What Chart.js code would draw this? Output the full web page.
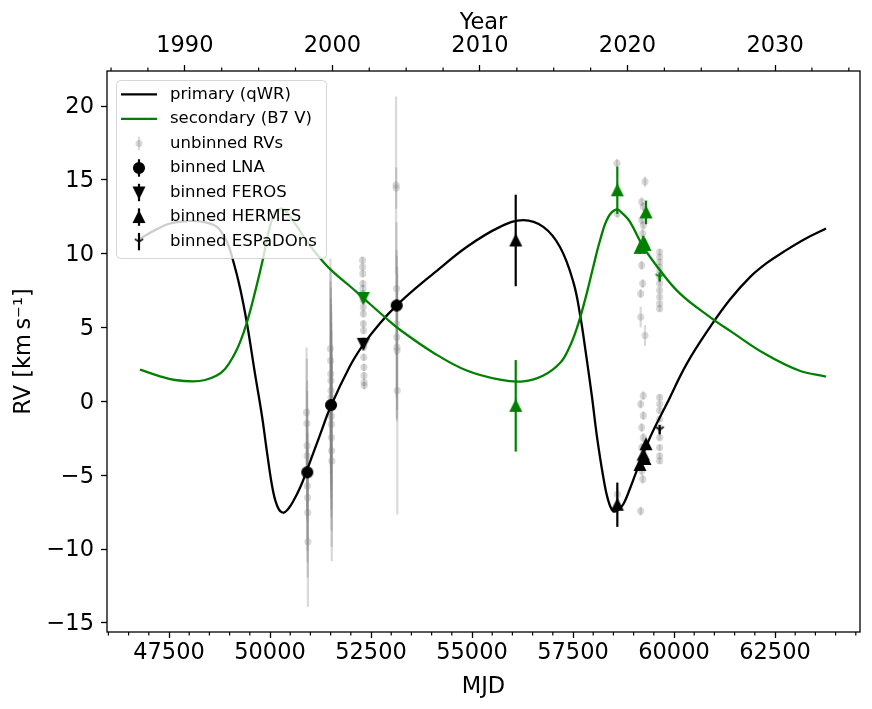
<!DOCTYPE html>
<html>
<head>
<meta charset="utf-8">
<title>RV orbit</title>
<script src="https://cdn.jsdelivr.net/npm/chart.js@4.4.1/dist/chart.umd.min.js"></script>
<style>
    html, body { margin: 0; padding: 0; background: #fff; }
    #wrap { width: 872px; height: 709px; }
</style>
</head>
<body>
<div id="wrap"><canvas id="rvChart" width="872" height="709"></canvas></div>
<script>
// --- values ---
const mjdTicks = [47500, 50000, 52500, 55000, 57500, 60000, 62500];
const yearTicks = [1990, 2000, 2010, 2020, 2030];
const rvTicks = [-15, -10, -5, 0, 5, 10, 15, 20];

// orbital solution (model curves)
const primaryMjd = [46782, 47153, 47525, 48020, 48342, 48688, 48936, 49084, 49257, 49431, 49629, 49802, 49926, 50074, 50198, 50329, 50445, 50577, 50743, 50923, 51213, 51510, 51980, 52309, 52723, 53136, 53600, 54042, 54869, 55693, 56270, 56765, 57178, 57507, 57673, 57822, 57970, 58094, 58242, 58366, 58497, 58614, 58745, 58911, 59076, 59406, 59819, 60314, 60891, 61386, 61881, 62300, 62705, 63242, 63762];
const primaryRv = [11.03, 11.6, 12.05, 12.23, 12.16, 11.82, 10.8, 9.56, 7.7, 5.26, 1.86, -1.0, -3.45, -6.05, -7.2, -7.54, -7.3, -6.75, -5.85, -4.6, -2.45, -0.3, 2.4, 3.85, 5.3, 6.5, 7.65, 8.65, 10.46, 11.82, 12.28, 11.82, 10.46, 8.1, 5.9, 3.2, 0.3, -2.4, -5.0, -6.65, -7.45, -7.35, -6.97, -5.9, -4.71, -2.45, -0.18, 2.54, 5.03, 6.9, 8.42, 9.38, 10.12, 11.0, 11.71];
const secondaryMjd = [46782, 47277, 47649, 48101, 48391, 48681, 48886, 49092, 49257, 49423, 49629, 49834, 49950, 50082, 50173, 50290, 50421, 50577, 50743, 50908, 51319, 51609, 51980, 52309, 52846, 53218, 54042, 54869, 55693, 56270, 56765, 57178, 57400, 57600, 57800, 58000, 58168, 58366, 58581, 58737, 58911, 59240, 59653, 60149, 60891, 61435, 62252, 63094, 63762];
const secondaryRv = [2.15, 1.7, 1.45, 1.36, 1.45, 1.75, 2.2, 3.05, 4.0, 5.3, 7.4, 9.75, 11.3, 12.6, 12.95, 13.05, 12.8, 12.2, 11.55, 10.85, 9.45, 8.65, 7.8, 7.0, 5.7, 4.85, 3.3, 2.09, 1.47, 1.36, 1.75, 2.6, 3.6, 5.0, 6.9, 9.1, 10.9, 12.45, 13.0, 12.7, 12.16, 10.46, 8.88, 7.3, 5.71, 4.69, 3.22, 2.09, 1.68];

// unbinned RVs
const unbinnedMjd = [
    50905, 50912, 50918, 50921, 50923, 50926, 50930, 50934, 50938,
    51495, 51500, 51504, 51507, 51510, 51512, 51515, 51518, 51520, 51523, 51526, 51530,
    52290, 52293, 52296, 52299, 52302, 52305, 52307, 52309, 52311, 52313, 52315, 52317, 52320, 52322, 52325, 52327, 52330, 52332,
    53120, 53125, 53130, 53134, 53138, 53142, 53146, 53150,
    58590, 58597, 58600, 58604,
    59282, 59200, 59240, 59200, 59240, 59225, 59183, 59200, 59225, 59175, 59175, 59282,
    59240, 59175, 59240, 59200, 59240, 59200, 59158, 59200, 59225, 59175,
    59645, 59645, 59645, 59645, 59645, 59645, 59645, 59645, 59645, 59645, 59645,
    59645, 59645, 59645, 59645, 59645, 59645, 59645, 59645, 59645
];
const unbinnedRv = [
    -0.75, -1.5, -3.0, -3.69, -4.89, -5.73, -6.52, -7.54, -9.51,
    3.56, 2.77, 1.86, 1.41, 0.73, 0.27, -0.29, -1.0, -1.54, -2.45, -3.35, -4.03,
    9.56, 9.1, 8.65, 7.98, 7.64, 7.3, 6.84, 6.39, 5.94, 5.26, 4.8, 4.12, 3.67, 2.99, 2.31, 1.75, 1.29, 1.07,
    14.65, 14.45, 7.64, 5.26, 4.35, 3.67, 3.44, 0.73,
    16.13, 12.73, -6.29, -7.2,
    14.88, 13.52, 13.18, 12.28, 11.94, 11.37, 10.35, 9.22, 7.98, 7.3, 5.71, 4.46,
    0.39, -0.18, -0.97, -1.77, -2.45, -3.13, -4.03, -4.71, -5.27, -7.43,
    10.12, 9.78, 9.44, 9.1, 8.76, 8.42, 7.98, 7.52, 7.07, 6.62, 6.28,
    0.27, -0.18, -0.63, -1.2, -1.77, -2.45, -3.13, -3.69, -4.03
];
const unbinnedErr = [
    4.4, 4.4, 4.4, 4.4, 4.4, 4.4, 4.4, 4.4, 4.4,
    6.1, 6.3, 6.3, 6.3, 6.3, 6.3, 6.3, 6.3, 6.3, 6.3, 6.5, 6.8,
    0.25, 0.25, 0.25, 0.25, 0.25, 0.25, 0.25, 0.25, 0.25, 0.25, 0.25, 0.25, 0.25, 0.25, 0.25, 0.25, 0.25, 0.25,
    6.0, 1.4, 4.5, 5.0, 5.5, 5.0, 4.0, 8.4,
    0.3, 0.3, 0.4, 0.4,
    0.35, 0.3, 0.3, 0.3, 0.3, 0.3, 0.3, 0.3, 0.3, 0.3, 0.7, 0.7,
    0.3, 0.3, 0.3, 0.3, 0.3, 0.3, 0.3, 0.3, 0.3, 0.3,
    0.2, 0.2, 0.2, 0.2, 0.2, 0.2, 0.2, 0.2, 0.2, 0.2, 0.2,
    0.2, 0.2, 0.2, 0.2, 0.2, 0.2, 0.2, 0.2, 0.2
];

// binned RVs per instrument (1 = primary, 2 = secondary)
const lnaMjd = [50923, 51510, 53136];
const lnaRv1 = [-4.8, -0.25, 6.5];
const lnaErr1 = [0.4, 0.4, 0.4];

const ferosMjd = [52310];
const ferosRv1 = [3.9];
const ferosRv2 = [7.0];
const ferosErr = [0.3];

const hermesMjd = [56082, 58597, 59158, 59240, 59282, 59307];
const hermesRv1 = [10.9, -7.0, -4.3, -3.6, -3.9, -2.9];
const hermesErr1 = [3.1, 1.5, 0.3, 0.3, 0.3, 0.3];
const hermesRv2 = [-0.3, 14.3, 10.4, 10.8, 10.6, 12.8];
const hermesErr2 = [3.1, 1.6, 0.4, 0.4, 0.4, 0.8];

const espadonsMjd = [59645];
const espadonsRv1 = [-1.9];
const espadonsRv2 = [8.45];
const espadonsErr = [0.3];

const legendLabels = ['primary (qWR)', 'secondary (B7 V)', 'unbinned RVs', 'binned LNA', 'binned FEROS', 'binned HERMES', 'binned ESPaDOns'];

// axis limits (MJD / km s^-1)
const mjdMin = 45965, mjdMax = 64604;
const rvMin = -15.62, rvMax = 22.38;

// --- styling ---
const GREEN = '#008000';
const BLACK = '#000000';
const GREY_A = 'rgba(128,128,128,0.3)';

Chart.defaults.font.family = '"DejaVu Sans", "Liberation Sans", sans-serif';
Chart.defaults.color = '#000';

const mjdToYear = m => 2000 + (m - 51544) / 365.25;

function pts(xs, ys) {
    return xs.map((x, i) => ({ x: x, y: ys[i] }));
}

// one small line dataset per error bar so overlapping alpha builds up
function errorBars(xs, ys, errs, color, width, order) {
    return xs.map((x, i) => ({
        data: [{ x: x, y: ys[i] - errs[i] }, { x: x, y: ys[i] + errs[i] }],
        showLine: true,
        borderColor: color,
        borderWidth: width,
        pointRadius: 0,
        order: order
    }));
}

// matplotlib-like marker glyphs
function makeMarker(kind, color) {
    const c = document.createElement('canvas');
    c.width = 22;
    c.height = 22;
    const g = c.getContext('2d');
    const h = 5.3;
    g.translate(11, 11);
    g.fillStyle = color;
    g.strokeStyle = color;
    g.lineWidth = 1.5;
    g.beginPath();
    if (kind === 'up') {
        g.moveTo(0, -h); g.lineTo(h, h); g.lineTo(-h, h); g.closePath();
        g.fill(); g.stroke();
    } else if (kind === 'down') {
        g.moveTo(0, h); g.lineTo(h, -h); g.lineTo(-h, -h); g.closePath();
        g.fill(); g.stroke();
    } else if (kind === 'circle') {
        g.arc(0, 0, h, 0, Math.PI * 2);
        g.fill(); g.stroke();
    } else if (kind === 'tri') {
        g.moveTo(0, 0); g.lineTo(0, h);
        g.moveTo(0, 0); g.lineTo(0.8 * h, -0.5 * h);
        g.moveTo(0, 0); g.lineTo(-0.8 * h, -0.5 * h);
        g.stroke();
    }
    return c;
}

const mk = {
    circleK: makeMarker('circle', BLACK),
    downK: makeMarker('down', BLACK),
    downG: makeMarker('down', GREEN),
    upK: makeMarker('up', BLACK),
    upG: makeMarker('up', GREEN),
    triK: makeMarker('tri', BLACK),
    triG: makeMarker('tri', GREEN)
};

function markerSet(xs, ys, style, order) {
    return {
        data: pts(xs, ys),
        pointStyle: style,
        pointRadius: 7,
        order: order
    };
}

// frame, minor ticks and the in-axes legend
const framePlugin = {
    id: 'frame',
    afterDraw(chart) {
        const { ctx, chartArea: a, scales } = chart;
        ctx.save();
        ctx.strokeStyle = '#000';
        ctx.lineWidth = 1.2;
        ctx.beginPath();
        for (let v = 46000; v <= mjdMax; v += 500) {
            if (v % 2500 === 0) continue;
            const px = scales.x.getPixelForValue(v);
            ctx.moveTo(px, a.bottom);
            ctx.lineTo(px, a.bottom + 3.5);
        }
        for (let yr = 1985; yr <= mjdToYear(mjdMax); yr += 2.5) {
            if (yr % 10 === 0) continue;
            const px = scales.x2.getPixelForValue(yr);
            ctx.moveTo(px, a.top);
            ctx.lineTo(px, a.top - 3.5);
        }
        ctx.stroke();

        ctx.lineWidth = 1.3;
        ctx.strokeRect(a.left, a.top, a.right - a.left, a.bottom - a.top);

        // legend box
        const bx = a.left + 9.5, by = a.top + 9.5, bw = 210, bh = 178;
        ctx.beginPath();
        if (ctx.roundRect) ctx.roundRect(bx, by, bw, bh, 4);
        else ctx.rect(bx, by, bw, bh);
        ctx.fillStyle = 'rgba(255,255,255,0.8)';
        ctx.fill();
        ctx.strokeStyle = 'rgba(204,204,204,0.8)';
        ctx.lineWidth = 1;
        ctx.stroke();

        const hx = a.left + 32, tx = a.left + 63;
        const rowY = i => a.top + 23.3 + i * 24.55;
        ctx.lineWidth = 2.3;
        [BLACK, GREEN].forEach((col, i) => {
            ctx.strokeStyle = col;
            ctx.beginPath();
            ctx.moveTo(hx - 18, rowY(i));
            ctx.lineTo(hx + 18, rowY(i));
            ctx.stroke();
        });

        // unbinned handle
        ctx.strokeStyle = GREY_A;
        ctx.lineWidth = 2.2;
        ctx.beginPath();
        ctx.moveTo(hx, rowY(2) - 6.7);
        ctx.lineTo(hx, rowY(2) + 6.7);
        ctx.stroke();
        ctx.fillStyle = GREY_A;
        ctx.beginPath();
        ctx.arc(hx, rowY(2), 3.5, 0, Math.PI * 2);
        ctx.fill();

        [mk.circleK, mk.downK, mk.upK, mk.triK].forEach((img, k) => {
            const y = rowY(k + 3);
            ctx.strokeStyle = BLACK;
            ctx.lineWidth = 2.2;
            ctx.beginPath();
            ctx.moveTo(hx, y - 8.7);
            ctx.lineTo(hx, y + 8.7);
            ctx.stroke();
            ctx.drawImage(img, hx - 11, y - 11);
        });

        ctx.fillStyle = '#000';
        ctx.font = '16.5px "DejaVu Sans"';
        ctx.textBaseline = 'middle';
        ctx.textAlign = 'left';
        legendLabels.forEach((t, i) => ctx.fillText(t, tx, rowY(i)));
        ctx.restore();
    }
};

const tickGrid = {
    display: true,
    drawOnChartArea: false,
    drawTicks: true,
    tickLength: 6,
    tickColor: '#000',
    tickWidth: 1.3
};

const modelLine = (xs, ys, color, order) => ({
    data: pts(xs, ys),
    showLine: true,
    borderColor: color,
    borderWidth: 2.3,
    pointRadius: 0,
    tension: 0.4,
    order: order
});

const datasets = [].concat(
    // binned markers on top
    [
        markerSet(lnaMjd, lnaRv1, mk.circleK, 1),
        markerSet(ferosMjd, ferosRv1, mk.downK, 1),
        markerSet(ferosMjd, ferosRv2, mk.downG, 1),
        markerSet(hermesMjd, hermesRv1, mk.upK, 1),
        markerSet(hermesMjd, hermesRv2, mk.upG, 1),
        markerSet(espadonsMjd, espadonsRv1, mk.triK, 1),
        markerSet(espadonsMjd, espadonsRv2, mk.triG, 1)
    ],
    errorBars(lnaMjd, lnaRv1, lnaErr1, BLACK, 2.2, 2),
    errorBars(ferosMjd, ferosRv1, ferosErr, BLACK, 2.2, 2),
    errorBars(ferosMjd, ferosRv2, ferosErr, GREEN, 2.2, 2),
    errorBars(hermesMjd, hermesRv1, hermesErr1, BLACK, 2.2, 2),
    errorBars(hermesMjd, hermesRv2, hermesErr2, GREEN, 2.2, 2),
    errorBars(espadonsMjd, espadonsRv1, espadonsErr, BLACK, 2.2, 2),
    errorBars(espadonsMjd, espadonsRv2, espadonsErr, GREEN, 2.2, 2),
    [
        modelLine(secondaryMjd, secondaryRv, GREEN, 3),
        modelLine(primaryMjd, primaryRv, BLACK, 4),
        {
            data: pts(unbinnedMjd, unbinnedRv),
            pointStyle: 'circle',
            pointRadius: 3.6,
            backgroundColor: GREY_A,
            borderWidth: 0,
            order: 5
        }
    ],
    errorBars(unbinnedMjd, unbinnedRv, unbinnedErr, GREY_A, 2.2, 6)
);

new Chart(document.getElementById('rvChart'), {
    type: 'scatter',
    data: { datasets: datasets },
    plugins: [framePlugin],
    options: {
        responsive: false,
        animation: false,
        events: [],
        layout: { padding: { left: 0, right: 12, top: 0, bottom: 0 } },
        plugins: {
            legend: { display: false },
            tooltip: { enabled: false }
        },
        scales: {
            x: {
                type: 'linear',
                position: 'bottom',
                min: mjdMin,
                max: mjdMax,
                afterBuildTicks: s => { s.ticks = mjdTicks.map(v => ({ value: v })); },
                afterFit: s => { s.height = 77; },
                grid: tickGrid,
                border: { display: false },
                ticks: {
                    autoSkip: false,
                    maxRotation: 0,
                    padding: 2,
                    font: { size: 22.5 },
                    callback: v => String(v)
                },
                title: { display: true, text: 'MJD', font: { size: 22.5 }, padding: { top: 0, bottom: 8 } }
            },
            x2: {
                type: 'linear',
                position: 'top',
                min: mjdToYear(mjdMin),
                max: mjdToYear(mjdMax),
                afterBuildTicks: s => { s.ticks = yearTicks.map(v => ({ value: v })); },
                afterFit: s => { s.height = 71; },
                grid: tickGrid,
                border: { display: false },
                ticks: {
                    autoSkip: false,
                    maxRotation: 0,
                    padding: 5,
                    font: { size: 22.5 },
                    callback: v => String(v)
                },
                title: { display: true, text: 'Year', font: { size: 22.5 }, padding: { top: 10, bottom: 0 } }
            },
            y: {
                type: 'linear',
                position: 'left',
                min: rvMin,
                max: rvMax,
                afterBuildTicks: s => { s.ticks = rvTicks.map(v => ({ value: v })); },
                afterFit: s => { s.width = 107; },
                grid: tickGrid,
                border: { display: false },
                ticks: {
                    autoSkip: false,
                    padding: 7,
                    labelOffset: 1.5,
                    font: { size: 22.5 },
                    callback: v => (v < 0 ? '\u2212' + Math.abs(v) : String(v))
                },
                title: { display: true, text: 'RV [km\u2009s\u207B\u00B9]', font: { size: 22.5 }, padding: { top: 11, bottom: 0 } }
            }
        }
    }
});
</script>
</body>
</html>
